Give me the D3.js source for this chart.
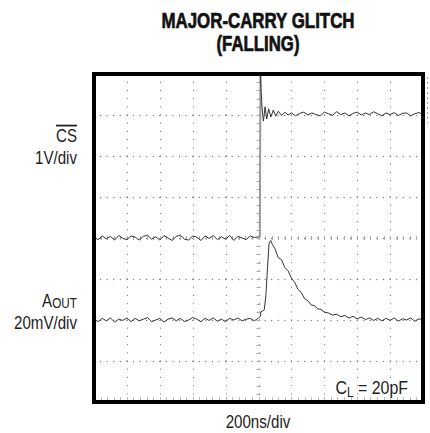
<!DOCTYPE html>
<html>
<head>
<meta charset="utf-8">
<script src="https://cdn.jsdelivr.net/npm/d3@7"></script>
<style>
  body { margin: 0; background: #fff; }
  text { font-family: "Liberation Sans", Arial, sans-serif; fill: #222; }
</style>
</head>
<body>
<svg width="430" height="433"></svg>
<script>
// scope settings: 10 x 8 divisions, 200ns/div
var timeDomain = [0, 2000];
var divDomain = [0, 8];

// CS trace (divisions from bottom)
var csTime = [0,25,50,75,100,125,150,175,200,225,250,275,300,325,350,375,400,425,450,475,
  500,525,550,575,600,625,650,675,700,725,750,775,800,825,850,875,900,925,950,975,1000,
  1008,1012,1016,1022,1030,1040,1050,1062,1075,1090,1105,1120,1140,1160,1180,1200,
  1225,1250,1275,1300,1325,1350,1375,1400,1425,1450,1475,1500,1525,1550,1575,1600,
  1625,1650,1675,1700,1725,1750,1775,1800,1825,1850,1875,1900,1925,1950,1975,2000];
var csVal = [4.02,3.96,4.05,3.98,4.04,3.95,4.06,3.99,3.96,4.05,4.02,3.95,4.04,4.07,3.97,4.03,3.95,4.06,4.00,3.94,
  4.04,4.07,3.97,3.95,4.05,4.02,3.94,4.05,3.99,4.06,3.96,4.03,3.97,4.06,3.94,4.04,4.00,3.96,4.05,4.01,4.03,
  4.03,8.0,7.56,7.15,6.85,7.2,6.9,7.15,6.95,7.12,6.97,7.09,6.99,7.07,7.0,7.05,
  6.98,7.04,7.07,7.00,7.05,7.01,6.98,7.07,7.03,6.99,7.08,7.01,7.05,6.98,7.04,7.07,
  7.00,7.05,7.01,7.08,7.03,6.98,7.05,7.01,7.06,6.99,7.04,7.05,6.98,7.03,7.06,7.01];
var csEdgeIndex = 41; // fast edge drawn faint

// AOUT trace (divisions from bottom)
var aoutTime = [0,25,50,75,100,125,150,175,200,225,250,275,300,325,350,375,400,425,450,475,
  500,525,550,575,600,625,650,675,700,725,750,775,800,825,850,875,900,925,950,975,1000,
  1010,1015,1025,1035,1045,1055,1064,1074,1085,1100,1120,1140,1160,1180,1200,1220,1240,
  1260,1280,1300,1320,1340,1360,1380,1400,1425,1450,1475,1500,1525,1550,1575,1600,
  1625,1650,1675,1700,1725,1750,1775,1800,1825,1850,1875,1900,1925,1950,1975,2000];
var aoutVal = [2.02,1.96,2.04,1.98,2.05,1.95,2.02,1.99,2.05,1.96,2.04,1.98,2.02,2.06,1.96,2.00,2.04,1.95,2.02,2.05,
  1.98,2.04,1.96,2.00,2.06,2.02,1.96,2.04,1.99,2.05,1.97,2.02,1.96,2.04,2.00,2.05,1.98,2.02,2.04,1.98,2.05,
  2.08,2.2,2.22,2.25,2.6,3.3,3.86,3.94,3.84,3.74,3.52,3.47,3.28,3.2,3.02,2.92,2.75,
  2.67,2.52,2.47,2.37,2.35,2.27,2.26,2.19,2.17,2.12,2.14,2.08,2.11,2.05,2.09,2.03,
  2.07,2.01,2.05,1.99,2.04,1.98,2.04,1.99,2.05,1.97,2.03,2.00,2.05,1.97,2.03,2.00];

var svg = d3.select("svg");
var plotLeft = 94, plotRight = 423, plotTop = 74, plotBottom = 402;

var x = d3.scaleLinear().domain(timeDomain).range([plotLeft, plotRight]);
var y = d3.scaleLinear().domain(divDomain).range([plotBottom, plotTop]);

var g = svg.append("g");

// graticule dotted lines (round dots)
var xDiv = (plotRight - plotLeft) / 10, yDiv = (plotBottom - plotTop) / 8;
d3.range(1, 10).forEach(function(i) {
  g.append("line")
   .attr("x1", Math.round(x(i * 200)) + 0.5).attr("x2", Math.round(x(i * 200)) + 0.5)
   .attr("y1", plotTop + yDiv / 5).attr("y2", plotBottom)
   .attr("stroke", "#777").attr("stroke-width", 1.3)
   .attr("stroke-linecap", "round")
   .attr("stroke-dasharray", "0.01," + (yDiv / 5 - 0.01));
});
d3.range(1, 8).forEach(function(j) {
  g.append("line")
   .attr("x1", plotLeft + xDiv / 5).attr("x2", plotRight)
   .attr("y1", Math.round(y(j)) + 0.5).attr("y2", Math.round(y(j)) + 0.5)
   .attr("stroke", "#777").attr("stroke-width", 1.3)
   .attr("stroke-linecap", "round")
   .attr("stroke-dasharray", "0.01," + (xDiv / 5 - 0.01));
});

// minor ticks on centre axes and bottom edge
d3.range(1, 50).forEach(function(k) {
  var xx = Math.round(x(k * 40)) + 0.5;
  g.append("line").attr("x1", xx).attr("x2", xx)
   .attr("y1", y(4) - 2).attr("y2", y(4) + 2)
   .attr("stroke", "#aaa").attr("stroke-width", 1);
  g.append("line").attr("x1", xx).attr("x2", xx)
   .attr("y1", plotBottom - 5).attr("y2", plotBottom - 2)
   .attr("stroke", "#bbb").attr("stroke-width", 1);
});
d3.range(1, 40).forEach(function(k) {
  var yy = Math.round(y(k * 0.2)) + 0.5;
  g.append("line").attr("x1", x(1000) - 2).attr("x2", x(1000) + 2)
   .attr("y1", yy).attr("y2", yy)
   .attr("stroke", "#aaa").attr("stroke-width", 1);
});

// traces
var line = d3.line()
  .x(function(d) { return x(d[0]); })
  .y(function(d) { return y(d[1]); });

var cs = d3.zip(csTime, csVal);
var aout = d3.zip(aoutTime, aoutVal);

g.append("path").datum(cs.slice(0, csEdgeIndex + 1))
 .attr("d", line).attr("fill", "none")
 .attr("stroke", "#333").attr("stroke-width", 1);
g.append("path").datum(cs.slice(csEdgeIndex, csEdgeIndex + 2))
 .attr("d", line).attr("fill", "none")
 .attr("stroke", "#999").attr("stroke-width", 2);
g.append("path").datum(cs.slice(csEdgeIndex + 1))
 .attr("d", line).attr("fill", "none")
 .attr("stroke", "#333").attr("stroke-width", 1);

g.append("path").datum(aout)
 .attr("d", line).attr("fill", "none")
 .attr("stroke", "#333").attr("stroke-width", 1);

// frame
g.append("rect")
 .attr("x", plotLeft).attr("y", plotTop)
 .attr("width", plotRight - plotLeft).attr("height", plotBottom - plotTop)
 .attr("fill", "none").attr("stroke", "#000").attr("stroke-width", 4);

// stray marks just outside the right edge
g.append("line")
 .attr("x1", plotRight + 4.5).attr("x2", plotRight + 4.5)
 .attr("y1", plotTop + 3).attr("y2", y(6.8))
 .attr("stroke", "#999").attr("stroke-width", 1)
 .attr("stroke-dasharray", "2,3");

// condensed text helper
function label(px, py, anchor, size) {
  return svg.append("text")
    .attr("transform", "translate(" + px + "," + py + ") scale(0.84,1)")
    .attr("text-anchor", anchor)
    .attr("font-size", size + "px");
}

// title
svg.append("text")
 .attr("x", 258).attr("y", 28)
 .attr("text-anchor", "middle")
 .attr("font-size", "22px").attr("font-weight", "bold")
 .attr("textLength", 193).attr("lengthAdjust", "spacingAndGlyphs")
 .style("fill", "#111").style("stroke", "#111").style("stroke-width", 0.7)
 .text("MAJOR-CARRY GLITCH");
svg.append("text")
 .attr("x", 258).attr("y", 51)
 .attr("text-anchor", "middle")
 .attr("font-size", "22px").attr("font-weight", "bold")
 .attr("textLength", 83).attr("lengthAdjust", "spacingAndGlyphs")
 .style("fill", "#111").style("stroke", "#111").style("stroke-width", 0.7)
 .text("(FALLING)");

// channel labels
label(77, 142, "end", 18)
 .attr("text-decoration", "overline")
 .text("CS");
label(77, 164, "end", 18).text("1V/div");

var ao = label(77, 307, "end", 18);
ao.append("tspan").text("A");
ao.append("tspan").attr("font-size", "14px").attr("dy", 1).text("OUT");
label(77, 329, "end", 18).text("20mV/div");

// load capacitance note
var cl = label(408, 394, "end", 19);
cl.append("tspan").text("C");
cl.append("tspan").attr("font-size", "14px").attr("dy", 3).text("L");
cl.append("tspan").attr("dy", -3).text(" = 20pF");

// x scale note
label(258, 428, "middle", 18).text("200ns/div");
</script>
</body>
</html>
